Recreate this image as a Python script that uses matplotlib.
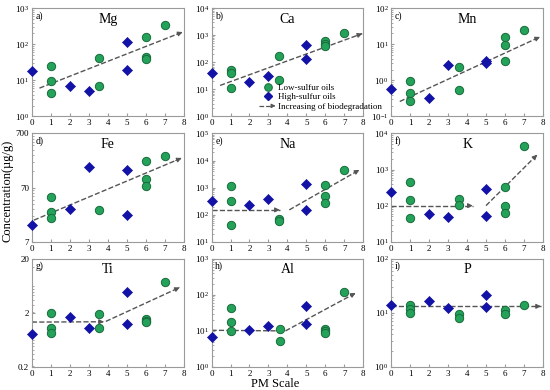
import numpy as np
import matplotlib
matplotlib.use('Agg')
import matplotlib.pyplot as plt
from matplotlib.lines import Line2D
from matplotlib.patches import FancyArrowPatch
from matplotlib.legend_handler import HandlerBase
from matplotlib.ticker import FixedLocator, FixedFormatter, LogLocator, NullFormatter

plt.rcParams['font.family'] = ['Liberation Serif', 'DejaVu Serif']
plt.rcParams['mathtext.fontset'] = 'stix'

# PM scale of the oils (3.55 = PM 3-4)
# low-sulfur oils (green circles), high-sulfur oils (blue diamonds)
mg_low_x = [1, 1, 1, 3.55, 3.55, 6, 6, 6, 7]
mg_low_y = [25, 9.4, 4.4, 42, 7.2, 155, 45, 40, 340]
mg_high_x = [0, 2, 3, 5, 5]
mg_high_y = [18, 6.8, 5.0, 114, 19]
mg_trend = [[(0.4, 6.1), (7.95, 218)]]

ca_low_x = [1, 1, 1, 3.55, 3.55, 6, 6, 6, 7]
ca_low_y = [52, 39, 11, 178, 23, 600, 490, 390, 1260]
ca_high_x = [0, 2, 3, 5, 5]
ca_high_y = [42, 19, 32, 450, 133]
ca_trend = [[(0.45, 14), (7.95, 1150)]]

mn_low_x = [1, 1, 1, 3.55, 3.55, 6, 6, 6, 7]
mn_low_y = [0.95, 0.44, 0.26, 2.3, 0.55, 16, 9.8, 3.5, 25]
mn_high_x = [0, 2, 3, 5, 5]
mn_high_y = [0.59, 0.33, 2.7, 3.4, 3.0]
mn_trend = [[(0.45, 0.26), (7.85, 16)]]

fe_low_x = [1, 1, 1, 3.55, 6, 6, 6, 7]
fe_low_y = [46, 25, 19, 27, 220, 101, 74, 268]
fe_high_x = [0, 2, 3, 5, 5]
fe_high_y = [14, 28, 165, 145, 22]
fe_trend = [[(0.1, 17.5), (7.9, 246)]]

na_low_x = [1, 1, 1, 3.55, 3.55, 6, 6, 6, 7]
na_low_y = [1150, 330, 41, 71, 58, 1260, 490, 260, 4300]
na_high_x = [0, 2, 3, 5, 5]
na_high_y = [330, 230, 390, 1400, 150]
na_trend = [[(0.0, 150), (3.6, 150)], [(4.1, 150), (7.8, 4500)]]

k_low_x = [1, 1, 1, 3.55, 3.55, 6, 6, 6, 7]
k_low_y = [440, 147, 46, 150, 107, 320, 100, 63, 4600]
k_high_x = [0, 2, 3, 5, 5]
k_high_y = [240, 60, 48, 280, 50]
k_trend = [[(0.0, 100), (4.3, 100)], [(5.0, 100), (7.7, 2570)]]

ti_low_x = [1, 1, 1, 3.55, 3.55, 6, 6, 6, 7]
ti_low_y = [1.95, 1.03, 0.86, 1.92, 1.07, 1.55, 1.41, 1.36, 7.3]
ti_high_x = [0, 2, 3, 5, 5]
ti_high_y = [0.80, 1.69, 1.07, 4.84, 1.23]
ti_trend = [[(0.0, 1.35), (3.8, 1.37)], [(3.9, 1.39), (7.8, 5.9)]]

al_low_x = [1, 1, 1, 3.6, 3.6, 6, 6, 6, 7]
al_low_y = [43, 18, 10, 11.6, 5.4, 11, 10, 8.6, 120]
al_high_x = [0, 2, 3, 5, 5]
al_high_y = [6.6, 10.4, 13.8, 49, 16]
al_trend = [[(0.0, 10.4), (3.8, 10)], [(3.9, 10), (7.6, 112)]]

p_low_x = [1, 1, 1, 3.55, 3.55, 6, 6, 7]
p_low_y = [14, 11.8, 9.8, 9.6, 7.9, 11.5, 9.6, 14]
p_high_x = [0, 2, 3, 5, 5]
p_high_y = [13.8, 16.8, 12.3, 21.4, 12.9]
p_trend = [[(0.0, 13.2), (7.9, 13.2)]]

elements = ['Mg', 'Ca', 'Mn', 'Fe', 'Na', 'K', 'Ti', 'Al', 'P']
letters = ['a)', 'b)', 'c)', 'd)', 'e)', 'f)', 'g)', 'h)', 'i)']
low_x = [mg_low_x, ca_low_x, mn_low_x, fe_low_x, na_low_x, k_low_x, ti_low_x, al_low_x, p_low_x]
low_y = [mg_low_y, ca_low_y, mn_low_y, fe_low_y, na_low_y, k_low_y, ti_low_y, al_low_y, p_low_y]
high_x = [mg_high_x, ca_high_x, mn_high_x, fe_high_x, na_high_x, k_high_x, ti_high_x, al_high_x, p_high_x]
high_y = [mg_high_y, ca_high_y, mn_high_y, fe_high_y, na_high_y, k_high_y, ti_high_y, al_high_y, p_high_y]
trends = [mg_trend, ca_trend, mn_trend, fe_trend, na_trend, k_trend, ti_trend, al_trend, p_trend]

# y range (powers of ten) and tick labels
y_ranges = [(0, 3), (0, 4), (-1, 2), None, (1, 5), (1, 4), None, (0, 3), (0, 2)]
fe_ticks = [7, 70, 700]
ti_ticks = [0.2, 2, 20]

green = '#25a25a'
green_edge = '#176b3b'
blue = '#1212a6'
arrow_col = '#555555'


class HandlerArrow(HandlerBase):
    def create_artists(self, legend, orig_handle, xdescent, ydescent,
                       width, height, fontsize, trans):
        y = height / 2 - ydescent
        line = Line2D([-xdescent, width - xdescent - 3], [y, y], ls='--',
                      color=arrow_col, lw=0.9, transform=trans)
        head = FancyArrowPatch((width - xdescent - 4, y), (width - xdescent, y),
                               arrowstyle='-|>', mutation_scale=6,
                               color=arrow_col, lw=0.8, transform=trans)
        return [line, head]


fig, axes = plt.subplots(3, 3, figsize=(5.5, 3.9), dpi=100)
plt.subplots_adjust(left=0.058, right=0.987, top=0.979, bottom=0.059,
                    wspace=0.185, hspace=0.157)

for i, ax in enumerate(axes.flat):
    ax.set_yscale('log')
    ax.set_xlim(0, 8)
    ax.set_xticks(range(9))
    if y_ranges[i] is not None:
        lo, hi = y_ranges[i]
        ax.set_ylim(10.0 ** lo, 10.0 ** hi)
        ax.yaxis.set_major_locator(LogLocator(base=10, numticks=10))
    else:
        t = fe_ticks if elements[i] == 'Fe' else ti_ticks
        ax.set_ylim(t[0], t[-1])
        ax.yaxis.set_major_locator(FixedLocator(t))
        ax.yaxis.set_major_formatter(FixedFormatter([str(v) for v in t]))
        ax.yaxis.set_minor_locator(LogLocator(base=10, subs=np.arange(2, 10) * 0.7, numticks=10))
    ax.yaxis.set_minor_formatter(NullFormatter())

    for trend in trends[i]:
        (x0, y0), (x1, y1) = trend
        ax.plot([x0, x1], [y0, y1], ls='--', color=arrow_col, lw=1.0, zorder=2)
        # small solid head at the end of each trend line
        xh = x0 + 0.96 * (x1 - x0)
        yh = 10 ** (np.log10(y0) + 0.96 * (np.log10(y1) - np.log10(y0)))
        ax.annotate('', xy=(x1, y1), xytext=(xh, yh),
                    arrowprops=dict(arrowstyle='-|>', color=arrow_col, lw=0.8,
                                    mutation_scale=7, shrinkA=0, shrinkB=0), zorder=2)

    ax.scatter(low_x[i], low_y[i], s=36, marker='o', color=green,
               edgecolors=green_edge, linewidths=0.7, zorder=3, clip_on=False)
    ax.scatter(high_x[i], high_y[i], s=26, marker='D', color=blue,
               edgecolors=blue, linewidths=0.5, zorder=4, clip_on=False)

    ax.text(0.5, 0.9, elements[i], transform=ax.transAxes, ha='center',
            va='center', fontsize=10)
    ax.text(0.025, 0.975, letters[i], transform=ax.transAxes, ha='left',
            va='top', fontsize=7)

    for s in ax.spines.values():
        s.set_color('#9a9a9a')
        s.set_linewidth(0.8)
    ax.tick_params(which='both', direction='in', labelsize=6.5, color='#9a9a9a',
                   pad=2)
    ax.tick_params(which='major', length=2.5)
    ax.tick_params(which='minor', length=1.5)

# legend in panel b
handles = [Line2D([], [], ls='none', marker='o', ms=5.5, mfc=green, mec=green_edge, mew=0.7),
           Line2D([], [], ls='none', marker='D', ms=4.5, mfc=blue, mec=blue),
           Line2D([], [], ls='--', color=arrow_col)]
labels = ['Low-sulfur oils', 'High-sulfur oils', 'Increasing of biodegradation']
axes[0, 1].legend(handles, labels, loc='lower left', bbox_to_anchor=(0.28, 0.0),
                  frameon=False, fontsize=6.5, handlelength=1.8, handletextpad=0.3,
                  labelspacing=0.15, borderaxespad=0.2,
                  handler_map={handles[2]: HandlerArrow()})

fig.text(0.014, 0.51, 'Concentration(\u00b5g/g)', rotation=90, ha='center',
         va='center', fontsize=9)
fig.text(0.5, 0.015, 'PM Scale', ha='center', va='center', fontsize=9)

plt.savefig('out.png', dpi=100)
